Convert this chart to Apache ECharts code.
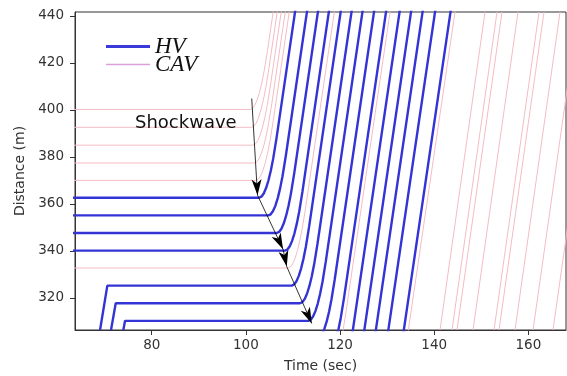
<!DOCTYPE html>
<html><head><meta charset="utf-8">
<script src="https://cdn.jsdelivr.net/npm/echarts@6/dist/echarts.min.js"></script>
<style>html,body{margin:0;padding:0;background:#fff}#c{width:567px;height:376px}</style>
</head><body><div id="c"></div>
<script>
// ---- tick labels ----
const xTicks = [80, 100, 120, 140, 160];
const yTicks = [320, 340, 360, 380, 400, 420, 440];

// ---- acceleration profile after a stopped vehicle starts (offsets) ----
const accelDt = [0, 0.5, 1, 1.5, 2, 2.5, 3, 3.7, 22];
const accelDd = [0, 0.46, 1.84, 4.14, 7.36, 11.5, 16.56, 25.2, 275];

// ---- HV (human-driven) vehicles: stop position (m) and start time (s) ----
const hvStop = [362.6, 355.1, 347.6, 340.1, 325.2, 317.7, 310.2, 302.6, 295.1, 280.1, 272.5, 265.0, 257.5, 250.0];
const hvGo   = [102.79, 104.77, 106.55, 108.32, 109.74, 111.5, 113.27, 115.17, 117.17, 118.95, 120.83, 122.73, 124.83, 127.57];
// HVs arriving in view from below before stopping: index, entry time at bottom, entry distance, stop time
const hvArriveIdx = [4, 5, 6];
const hvArriveT   = [69.02, 71.35, 73.97];
const hvArriveD   = [306.3, 306.3, 306.3];
const hvStopT     = [70.57, 72.35, 74.33];

// ---- CAV vehicles in the queue: stop position and start time ----
const cavStop = [400.2, 392.6, 385.0, 377.4, 370.0, 332.7, 287.6, 242.5];
const cavGo   = [100.9, 101.2, 101.5, 101.8, 102.1, 108.95, 117.48, 127.98];
// ---- CAVs passing without stopping: time at bottom / top of view ----
const cavFreeBottomT = [141.24, 143.79, 144.85, 148.25, 152.71, 153.77, 157.17, 161.0, 165.24];
const cavFreeTopT    = [150.8, 153.35, 154.41, 157.81, 162.27, 163.33, 166.73, 170.56, 174.8];
const cavFreeBottomD = 306.3;
const cavFreeTopD = 441.7;

// ---- shockwave annotation path ----
const shockT = [101.24, 102.47, 107.89, 108.68, 113.99];
const shockD = [404.85, 363.7, 340.7, 333.3, 309.1];

const HV_COLOR = '#3434d6';
const CAV_COLOR = '#f4bcc4';

function queueTrajectory(stop, go, entry) {
  const pts = [];
  if (entry) { pts.push([entry[0], entry[1]]); pts.push([entry[2], stop]); }
  else { pts.push([55, stop]); }
  for (let k = 0; k < accelDt.length; k++) pts.push([go + accelDt[k], stop + accelDd[k]]);
  return pts;
}

const series = [];
cavStop.forEach((s, i) => {
  series.push({ type: 'line', name: 'CAV', data: queueTrajectory(s, cavGo[i]), symbol: 'none', showSymbol: false,
    lineStyle: { color: CAV_COLOR, width: 1 }, itemStyle: { color: CAV_COLOR }, z: 2, silent: true });
});
cavFreeBottomT.forEach((tb, i) => {
  series.push({ type: 'line', name: 'CAV', data: [[tb, cavFreeBottomD], [cavFreeTopT[i], cavFreeTopD]], symbol: 'none', showSymbol: false,
    lineStyle: { color: CAV_COLOR, width: 1 }, itemStyle: { color: CAV_COLOR }, z: 2, silent: true });
});
hvStop.forEach((s, i) => {
  const a = hvArriveIdx.indexOf(i);
  const entry = a >= 0 ? [hvArriveT[a], hvArriveD[a], hvStopT[a]] : null;
  series.push({ type: 'line', name: 'HV', data: queueTrajectory(s, hvGo[i], entry), symbol: 'none', showSymbol: false,
    lineStyle: { color: HV_COLOR, width: 2.4 }, itemStyle: { color: HV_COLOR }, z: 3, silent: true });
});
const shockSegs = [];
for (let i = 0; i < shockT.length - 1; i++) shockSegs.push({ coords: [[shockT[i], shockD[i]], [shockT[i + 1], shockD[i + 1]]] });
series.push({
  type: 'lines', coordinateSystem: 'cartesian2d', data: shockSegs, z: 5, silent: true,
  symbol: ['none', 'path://M0,-15M0,0L4.5,15L0,11L-4.5,15Z'], symbolSize: [[10, 32], [10, 32]],
  lineStyle: { color: '#000', width: 0.8, opacity: 1 }
});

const axisFont = { fontFamily: 'DejaVu Sans', fontSize: 13.5, color: '#333' };
const chart = echarts.init(document.getElementById('c'), null, { renderer: 'canvas' });
chart.setOption({
  animation: false,
  backgroundColor: '#fff',
  grid: { left: 75, right: 1, top: 12, bottom: 46, outerBoundsMode: 'none', containLabel: false,
    show: true, borderColor: '#333', borderWidth: 1, backgroundColor: 'transparent' },
  xAxis: {
    type: 'value', min: 63.7, max: 168.0,
    axisLine: { show: true, lineStyle: { color: '#333', width: 1 } },
    axisTick: { show: true, customValues: xTicks, length: 5, lineStyle: { color: '#333' } },
    axisLabel: { customValues: xTicks, margin: 8, ...axisFont },
    splitLine: { show: false },
    name: 'Time (sec)', nameLocation: 'middle', nameGap: 29,
    nameTextStyle: { fontFamily: 'DejaVu Sans', fontSize: 14, color: '#333' }
  },
  yAxis: {
    type: 'value', min: 306.3, max: 441.7,
    axisLine: { show: true, lineStyle: { color: '#333', width: 1 } },
    axisTick: { show: true, customValues: yTicks, length: 5, lineStyle: { color: '#333' } },
    axisLabel: { customValues: yTicks, margin: 11, ...axisFont },
    splitLine: { show: false },
    name: 'Distance (m)', nameLocation: 'middle', nameGap: 42,
    nameTextStyle: { fontFamily: 'DejaVu Sans', fontSize: 14, color: '#333' }
  },
  legend: {
    orient: 'vertical', left: 101, top: 30, itemWidth: 44, itemHeight: 14, itemGap: -5,
    selectedMode: false, symbolKeepAspect: true,
    data: [
      { name: 'HV', icon: 'path://M0,0H44V3H0Z', itemStyle: { color: '#3a3ad8' } },
      { name: 'CAV', icon: 'path://M0,0H44V1.5H0Z', itemStyle: { color: '#dca0dc' } }
    ],
    textStyle: { fontFamily: 'Liberation Serif', fontStyle: 'italic', fontSize: 23, color: '#111' }
  },
  graphic: [{
    type: 'text', left: 135, top: 114, z: 100,
    style: { text: 'Shockwave', font: '18px "DejaVu Sans"', fill: '#111' }
  }],
  series: series
});
</script></body></html>
